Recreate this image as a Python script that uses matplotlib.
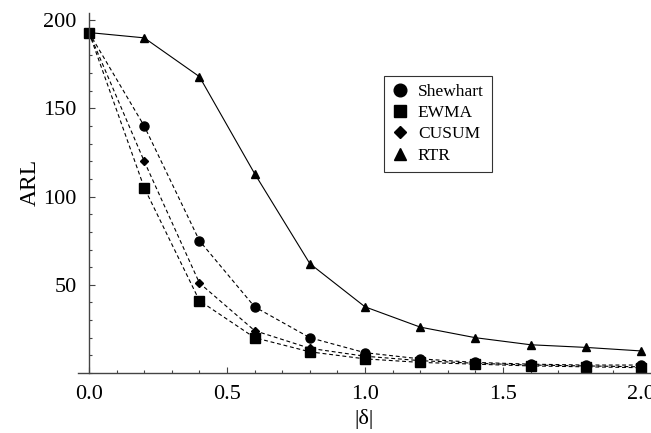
import matplotlib
matplotlib.use("Agg")
import matplotlib.pyplot as plt
from matplotlib.ticker import MultipleLocator

plt.rcParams["font.family"] = ["Liberation Serif", "DejaVu Serif"]

delta = [0.0, 0.2, 0.4, 0.6, 0.8, 1.0, 1.2, 1.4, 1.6, 1.8, 2.0]
shewhart = [193, 140, 75, 37.5, 20, 11.5, 8, 6, 5, 4.5, 4.5]
ewma = [193, 105, 41, 20, 12, 8, 6, 5, 4, 3.5, 3]
cusum = [193, 120, 51, 24, 14, 9.5, 7, 5.5, 4.5, 4, 3.5]
rtr = [193, 190, 168, 113, 62, 37.5, 26, 20, 16, 14.5, 12.5]

AXIS_COLOR = "#444444"

fig = plt.figure(figsize=(6.51, 4.33), dpi=100)
ax = fig.add_axes([0.1198, 0.1386, 0.8802, 0.831])

dash = dict(linestyle=(0, (3.5, 2.5)), linewidth=0.8, color="black")
ax.plot(delta, shewhart, marker="o", markersize=6.5, label="Shewhart", **dash)
ax.plot(delta, cusum, marker="D", markersize=4.5, label="CUSUM", **dash)
ax.plot(delta, ewma, marker="s", markersize=6.5, label="EWMA", **dash)
ax.plot(delta, rtr, marker="^", markersize=6, label="RTR",
        linestyle="-", linewidth=0.8, color="black")

ax.set_xlim(-0.04, 2.036)
ax.set_ylim(0, 204)

# Mathematica-style axes crossing at the origin
ax.spines["top"].set_visible(False)
ax.spines["right"].set_visible(False)
ax.spines["left"].set_position(("data", 0))
for s in ("left", "bottom"):
    ax.spines[s].set_color(AXIS_COLOR)
    ax.spines[s].set_linewidth(1.0)

ax.xaxis.set_major_locator(MultipleLocator(0.5))
ax.xaxis.set_minor_locator(MultipleLocator(0.1))
ax.yaxis.set_major_locator(MultipleLocator(50))
ax.yaxis.set_minor_locator(MultipleLocator(10))
ax.set_yticks([50, 100, 150, 200])
ax.tick_params(which="both", direction="in", color=AXIS_COLOR, labelsize=16, width=0.8)
ax.tick_params(which="major", length=4, pad=9)
ax.tick_params(which="minor", length=2.5)
ax.xaxis.set_major_formatter(matplotlib.ticker.FormatStrFormatter("%.1f"))

ax.set_ylabel("ARL", fontsize=17)
ax.set_xlabel("|δ|", fontsize=16)
ax.yaxis.set_label_coords(-0.065, 0.53)
ax.xaxis.set_label_coords(0.5, -0.1)

handles, labels = ax.get_legend_handles_labels()
order = ["Shewhart", "EWMA", "CUSUM", "RTR"]
hmap = dict(zip(labels, handles))
leg_handles = []
for name in order:
    h = hmap[name]
    leg_handles.append(plt.Line2D([], [], linestyle="none", marker=h.get_marker(),
                                  markersize=h.get_markersize() * 1.4, color="black"))
leg = ax.legend(leg_handles, order, loc="upper left", bbox_to_anchor=(0.534, 0.826),
                frameon=True, fancybox=False, edgecolor="black", fontsize=12.5,
                handlelength=1.0, handletextpad=0.5, borderpad=0.45, labelspacing=0.3,
                borderaxespad=0)
leg.get_frame().set_linewidth(0.8)

fig.savefig("out.png", dpi=100)
